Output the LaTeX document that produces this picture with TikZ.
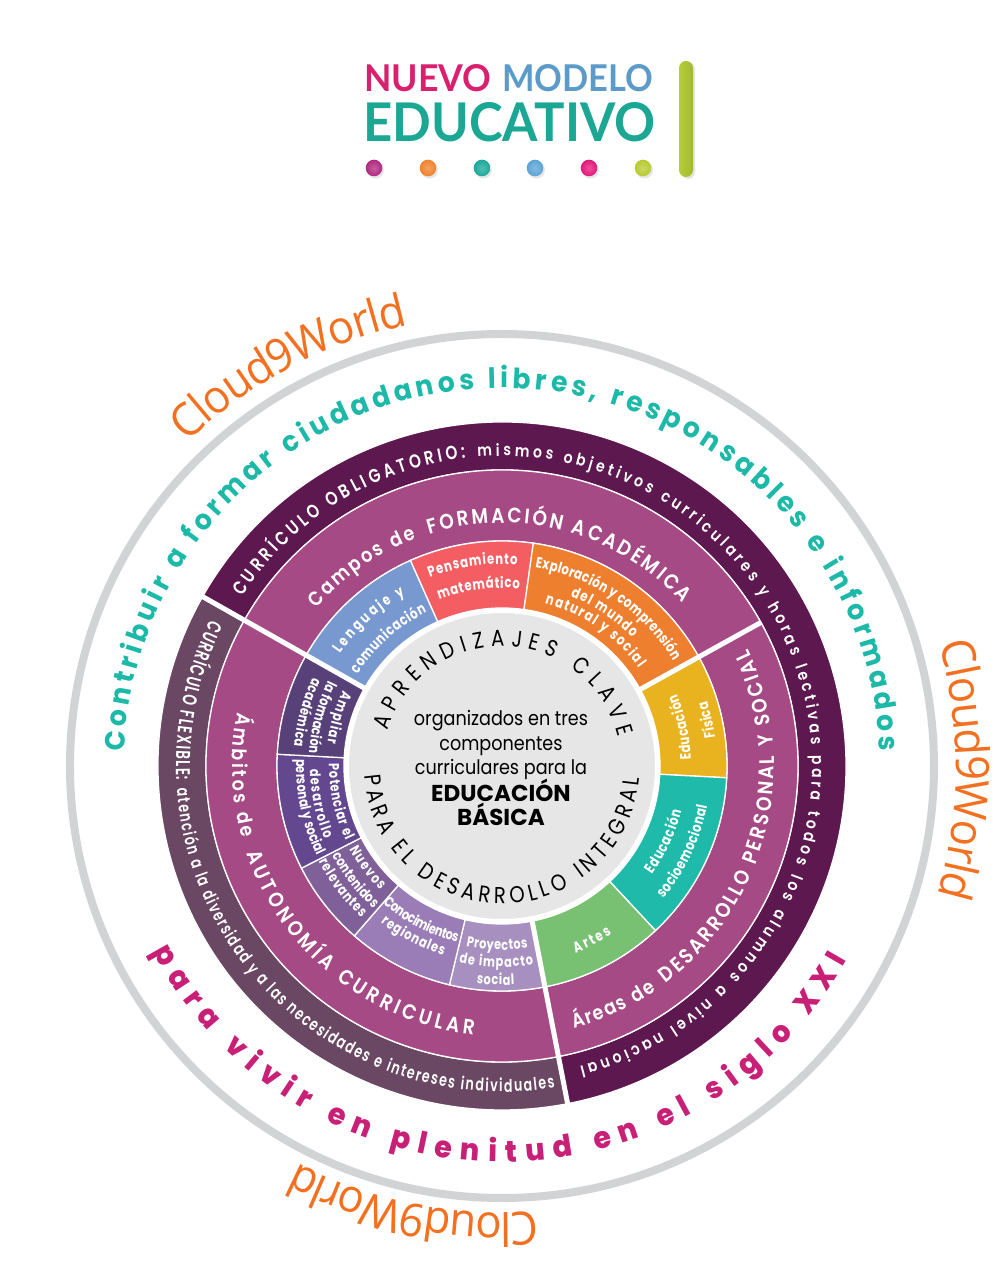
\documentclass[tikz,border=0pt]{standalone}
\usepackage{fontspec}
\usepackage{graphicx}
\newfontfamily\fteal[FakeStretch=0.95]{Poppins}[UprightFont=* Bold]
\newfontfamily\fmagt[FakeStretch=0.95]{Poppins}[UprightFont=* ExtraBold]
\newfontfamily\fdarkc[FakeStretch=0.8]{Poppins}[UprightFont=* SemiBold]
\newfontfamily\fdark[FakeStretch=0.85]{Poppins}[UprightFont=* SemiBold]
\newfontfamily\fflexc[FakeStretch=0.68]{Poppins}[UprightFont=* SemiBold]
\newfontfamily\fflex[FakeStretch=0.72]{Poppins}[UprightFont=* SemiBold]
\newfontfamily\fmid[FakeStretch=0.88]{Poppins}[UprightFont=* SemiBold]
\newfontfamily\fcen[FakeStretch=0.85]{Poppins}
\newfontfamily\fsec[FakeStretch=0.78]{Poppins}[UprightFont=* Bold]
\newfontfamily\fbody[FakeStretch=0.88]{Poppins}
\newfontfamily\fbold{Poppins}[UprightFont=* Bold]
\newfontfamily\fcloud[FakeStretch=0.95]{Open Sans}
\newfontfamily\flogo{Lato}
\definecolor{ringgrey}{HTML}{D1D3D4}
\definecolor{dark}{HTML}{5D1850}
\definecolor{flex}{HTML}{6A4763}
\definecolor{magring}{HTML}{A54A85}
\definecolor{tealC}{HTML}{1CB8A8}
\definecolor{magT}{HTML}{C81F77}
\definecolor{orangeC}{HTML}{F37021}
\definecolor{lenguaje}{HTML}{7899CF}
\definecolor{pensa}{HTML}{F45D62}
\definecolor{explo}{HTML}{EE7F2E}
\definecolor{fisica}{HTML}{E9B31F}
\definecolor{socio}{HTML}{1FBAAA}
\definecolor{artes}{HTML}{78C172}
\definecolor{proy}{HTML}{A78FC0}
\definecolor{cono}{HTML}{9A7DB7}
\definecolor{nuevos}{HTML}{7F6099}
\definecolor{poten}{HTML}{64488F}
\definecolor{ampl}{HTML}{574178}
\definecolor{discg}{HTML}{E6E6E6}
\definecolor{logopink}{HTML}{D9206E}
\definecolor{logoblue}{HTML}{5B9BC9}
\definecolor{logoteal}{HTML}{1BA793}
\definecolor{dotA}{HTML}{B0287F}
\definecolor{dotB}{HTML}{F0822E}
\definecolor{dotC}{HTML}{1BA89A}
\definecolor{dotD}{HTML}{5CA3D6}
\definecolor{dotE}{HTML}{E2197A}
\definecolor{dotF}{HTML}{B7CB2F}
\definecolor{barC}{HTML}{B5CE36}
\newcommand\sz[1]{\fontsize{#1pt}{#1pt}\selectfont}
\tikzset{sectorline/.style={draw=white,line width=1.3pt},
  bigdiv/.style={draw=white,line width=5pt},
  logotext/.style={inner sep=0pt,anchor=base west},
  arcchar/.style={inner sep=0pt,outer sep=0pt,anchor=base},
  bodyline/.style={inner sep=0pt,anchor=base,font=\fbody\sz{20}},
  boldline/.style={inner sep=0pt,anchor=base,font=\fbold\sz{23}}}
\newcommand\arcchar[4]{\node[arcchar,rotate=#2] at (#1:#3pt) {#4};}
\ExplSyntaxOn
\dim_new:N \l_arc_total_dim
\dim_new:N \l_arc_pos_dim
\dim_new:N \l_arc_w_dim
\dim_new:N \g_arc_space_dim
\box_new:N \l_arc_box
\fp_new:N \l_arc_ls_fp
\fp_new:N \l_arc_sgn_fp
\tl_new:N \l_arc_ang_tl
\tl_new:N \l_arc_rot_tl
\cs_new_protected:Npn \arc_measure:nn #1 #2
  {
    \str_if_eq:nnTF {#2} {~}
      { \dim_set_eq:NN \l_arc_w_dim \g_arc_space_dim }
      {
        \hbox_set:Nn \l_arc_box { \pgfinterruptpicture #1 #2 \endpgfinterruptpicture }
        \dim_set:Nn \l_arc_w_dim { \box_wd:N \l_arc_box }
      }
  }
\NewDocumentCommand \arctext { m m m m m }
  {
    \group_begin:
    \hbox_set:Nn \l_arc_box { \pgfinterruptpicture #1 \dim_gset:Nn \g_arc_space_dim { \fontdimen2\font } \endpgfinterruptpicture }
    \dim_zero:N \l_arc_total_dim
    \str_map_inline:nn {#5}
      {
        \arc_measure:nn {#1} {##1}
        \dim_add:Nn \l_arc_total_dim { \l_arc_w_dim }
      }
    \fp_compare:nNnTF {#3} < {#2}
      { \fp_set:Nn \l_arc_sgn_fp { -1 } }
      { \fp_set:Nn \l_arc_sgn_fp { 1 } }
    \fp_set:Nn \l_arc_ls_fp
      { ( abs(#3 - (#2)) / 57.29578 * (#4)
          - \dim_to_fp:n { \l_arc_total_dim } )
        / max( \str_count:n {#5} - 1 , 1 ) }
    \dim_zero:N \l_arc_pos_dim
    \str_map_inline:nn {#5}
      {
        \arc_measure:nn {#1} {##1}
        \tl_set:Nx \l_arc_ang_tl
          { \fp_eval:n { round( (#2) + \l_arc_sgn_fp * ( \dim_to_fp:n { \l_arc_pos_dim } + \dim_to_fp:n { \l_arc_w_dim } / 2 ) / (#4) * 57.29578 , 4) } }
        \tl_set:Nx \l_arc_rot_tl
          { \fp_eval:n { round( \l_arc_ang_tl + \l_arc_sgn_fp * 90 , 4) } }
        \str_if_eq:nnF {##1} {~}
          { \arcchar { \l_arc_ang_tl } { \l_arc_rot_tl } {#4} { #1 ##1 } }
        \dim_set:Nn \l_arc_pos_dim
          { \l_arc_pos_dim + \l_arc_w_dim + \fp_to_dim:n { \l_arc_ls_fp } }
      }
    \group_end:
  }
\ExplSyntaxOff
\newcommand\cwmid[5]{\pgfmathsetmacro\arcA{#2+#4/#3*28.6479}\pgfmathsetmacro\arcB{#2-#4/#3*28.6479}\arctext{#1}{\arcA}{\arcB}{#3}{#5}}
\newcommand\ccwmid[5]{\pgfmathsetmacro\arcA{#2-#4/#3*28.6479}\pgfmathsetmacro\arcB{#2+#4/#3*28.6479}\arctext{#1}{\arcA}{\arcB}{#3}{#5}}
\newcommand\sector[5]{\filldraw[fill=#1,sectorline] (#2:#4pt) arc[start angle=#2,end angle=#3,radius=#4pt]
  -- (#3:#5pt) arc[start angle=#3,end angle=#2,radius=#5pt] -- cycle;}
\newcommand\Fsec{\fsec\sz{15}\color{white}}
\newcommand\Fsmall{\fsec\sz{14.5}\color{white}}
\newcommand\Fring{\fmid\sz{21}\color{white}}
\newcommand\Fringl{\fmid\sz{20}\color{white}}
\begin{document}
\begin{tikzpicture}[x=1pt,y=1pt]
\useasboundingbox (-502,766) rectangle (505,-503);
% outer ring
\draw[ringgrey,line width=8pt] (0,0) circle[radius=432pt];
% dark rings
\sector{dark}{150.5}{-79}{344}{296}
\sector{flex}{150.5}{281}{344}{296}
% magenta rings
\sector{magring}{150.5}{29}{296}{225}
\sector{magring}{29}{-79}{296}{225}
\sector{magring}{150.5}{281}{296}{225}
% inner sectors
\sector{lenguaje}{150.5}{114}{225}{158}
\sector{pensa}{114}{82}{225}{158}
\sector{explo}{82}{29}{225}{158}
\sector{fisica}{29}{-3}{225}{158}
\sector{socio}{-3}{-47}{225}{158}
\sector{artes}{-47}{-79}{225}{158}
\sector{proy}{-79}{-103.5}{225}{158}
\sector{cono}{-103.5}{-131}{225}{158}
\sector{nuevos}{-131}{-153}{225}{158}
\sector{poten}{-153}{-183}{225}{158}
\sector{ampl}{-183}{-209.5}{225}{158}
% big dividers
\coordinate (d1a) at (150.5:156);\coordinate (d1b) at (150.5:347);
\coordinate (d2a) at (29:156);\coordinate (d2b) at (29:296);
\coordinate (d3a) at (-79:156);\coordinate (d3b) at (-79:347);
\draw[bigdiv] (d1a)--(d1b);\draw[bigdiv] (d2a)--(d2b);\draw[bigdiv] (d3a)--(d3b);
% disc
\filldraw[fill=discg,draw=white,line width=5pt] (0,0) circle[radius=155.5pt];
% ring texts
\arctext{\fteal\sz{28}\color{tealC}}{177.8}{2.2}{378}{Contribuir a formar ciudadanos libres, responsables e informados}
\arctext{\fmagt\sz{30}\color{magT}}{-152}{-29.3}{396}{para vivir en plenitud en el siglo XXI}
\arctext{\fdarkc\sz{19}\color{white}}{146.9}{96.7}{310}{CURRÍCULO OBLIGATORIO:}
\arctext{\fdark\sz{16.5}\color{white}}{94.5}{-75.5}{310}{mismos objetivos curriculares y horas lectivas para todos los alumnos a nivel nacional}
\arctext{\fflexc\sz{20}\color{white}}{153.3}{182.5}{326}{CURRÍCULO FLEXIBLE:}
\arctext{\fflex\sz{17.5}\color{white}}{184}{279.4}{326}{atención a la diversidad y a las necesidades e intereses individuales}
\arctext{\Fringl}{139.6}{110.7}{243}{Campos de}
\arctext{\Fring}{107.4}{42}{243}{FORMACIÓN ACADÉMICA}
\arctext{\Fringl}{168.5}{195.5}{270}{Ámbitos de}
\arctext{\Fring}{199}{264}{270}{AUTONOMÍA CURRICULAR}
\arctext{\Fringl}{-74.7}{-55.5}{272}{Áreas de}
\arctext{\Fring}{-53}{25.5}{272}{DESARROLLO PERSONAL Y SOCIAL}
\arctext{\fcen\sz{23}\color{black}}{163}{14}{120}{APRENDIZAJES CLAVE}
\arctext{\fcen\sz{23}\color{black}}{-176}{-5}{138}{PARA EL DESARROLLO INTEGRAL}
% Cloud9World
\arctext{\fcloud\sz{46}\color{orangeC}}{134.2}{102}{451}{Cloud9World}
\arctext{\fcloud\sz{46}\color{orangeC}}{15.6}{-16.5}{454}{Cloud9World}
\arctext{\fcloud\sz{46}\color{orangeC}}{-85.5}{-117.3}{447}{Cloud9World}
% sector labels
\cwmid{\Fsec}{132.4}{197}{89}{Lenguaje y}
\cwmid{\Fsec}{131.8}{171}{94}{comunicación}
\cwmid{\Fsec}{98.3}{202}{89}{Pensamiento}
\cwmid{\Fsec}{97.5}{178}{82}{matemático}
\arctext{\Fsec}{80.5}{31.5}{201}{Exploración y comprensión}
\cwmid{\Fsec}{56.3}{183}{75}{del mundo}
\cwmid{\Fsec}{55.4}{168}{116}{natural y social}
\ccwmid{\Fsec}{12.2}{189}{67}{Educación}
\ccwmid{\Fsec}{12.6}{215}{37}{Física}
\ccwmid{\Fsec}{-25}{185}{70}{Educación}
\ccwmid{\Fsec}{-25.2}{209}{104}{socioemocional}
\ccwmid{\Fsec}{-62.7}{201}{41}{Artes}
\ccwmid{\Fsmall}{-91.6}{184}{62}{Proyectos}
\ccwmid{\Fsmall}{-91.7}{201}{75}{de impacto}
\ccwmid{\Fsmall}{-91.7}{219}{38}{social}
\ccwmid{\Fsmall}{-117.6}{182}{85}{Conocimientos}
\ccwmid{\Fsmall}{-117.5}{198}{71}{regionales}
\ccwmid{\Fsmall}{-142.9}{174}{52}{Nuevos}
\ccwmid{\Fsmall}{-142.2}{192}{68}{contenidos}
\ccwmid{\Fsmall}{-142.6}{207}{71}{relevantes}
\ccwmid{\Fsmall}{-167.6}{173}{79}{Potenciar el}
\ccwmid{\Fsmall}{-168.3}{192}{72}{desarrollo}
\ccwmid{\Fsmall}{-168}{206}{100}{personal y social}
\ccwmid{\Fsmall}{-196.3}{176}{55}{Ampliar}
\ccwmid{\Fsmall}{-195}{193.5}{75}{la formación}
\ccwmid{\Fsmall}{-195.3}{209}{72}{académica}
% centre text
\node[bodyline] (l1) at (-1,40) {organizados en tres};
\node[bodyline] (l2) at (-1,15.5) {componentes};
\node[bodyline] (l3) at (-1,-9) {curriculares para la};
\node[boldline] (l4) at (-1,-35) {EDUCACIÓN};
\node[boldline] (l5) at (-1,-59) {BÁSICA};
% logo
\node[logotext,text=logopink] (nuevo) at (-138,674) {\resizebox{127pt}{27pt}{\flogo\bfseries NUEVO}};
\node[logotext,text=logoblue] (modelo) at (0,674) {\resizebox{151pt}{27pt}{\flogo\bfseries MODELO}};
\node[logotext,text=logoteal] (educ) at (-139,624) {\resizebox{292pt}{39pt}{\flogo\bfseries EDUCATIVO}};
\foreach \dx/\dc in {-128/dotA,-74/dotB,-20/dotC,33/dotD,87/dotE,141/dotF}{
  \fill[black!10] (\dx+1.5,596) circle[radius=8.5pt];
  \shade[inner color=\dc!75!white,outer color=\dc] (\dx,598) circle[radius=8.3pt];
}
\fill[black!10,rounded corners=7pt] (179,704) rectangle (193,587);
\shade[left color=barC,middle color=barC!75!white,right color=barC!90!black,rounded corners=7pt] (177,705) rectangle (191,589);
\end{tikzpicture}
\end{document}
